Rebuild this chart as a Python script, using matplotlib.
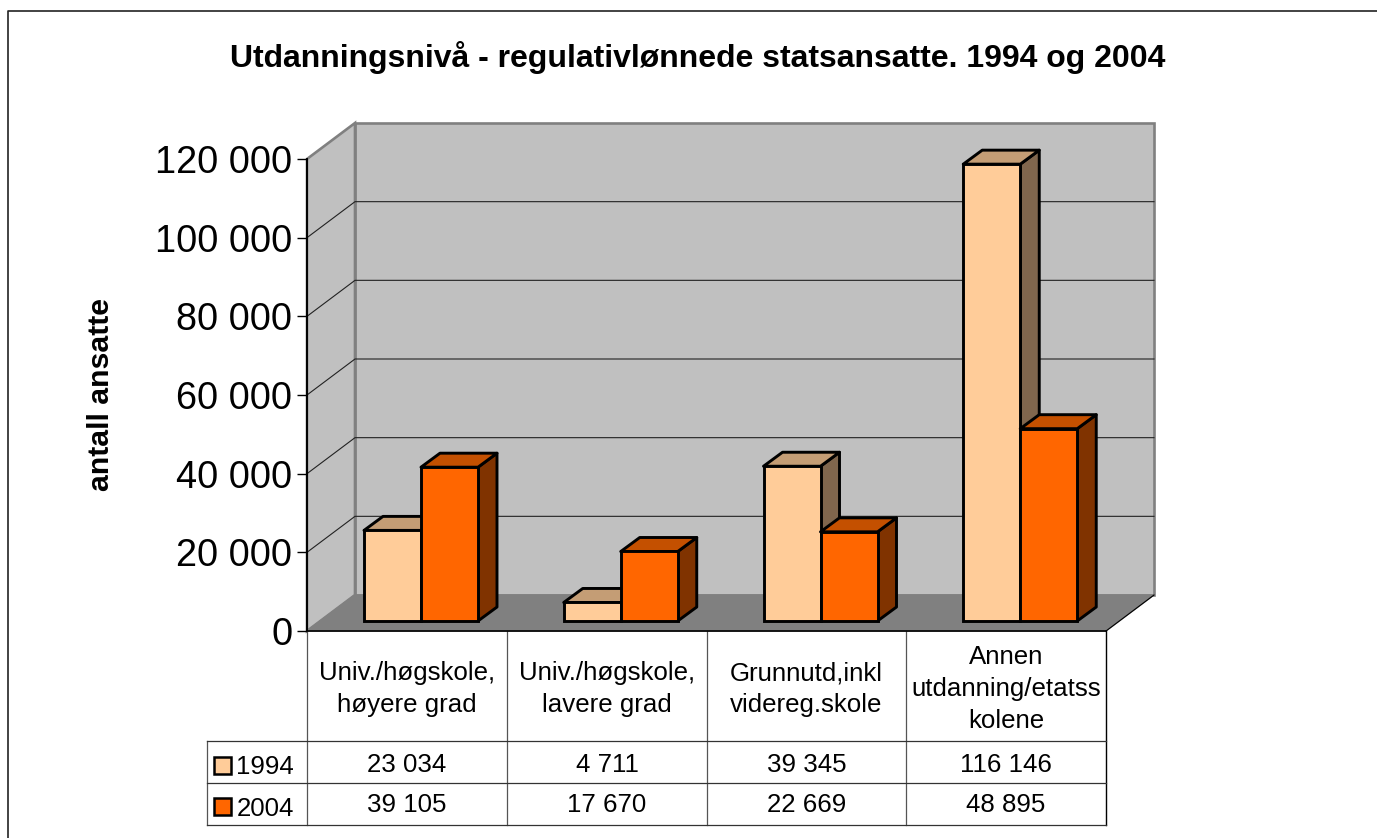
import matplotlib
matplotlib.use("Agg")
import matplotlib.pyplot as plt
from matplotlib.patches import Polygon, Rectangle

plt.rcParams['font.family'] = ['Liberation Sans', 'DejaVu Sans']

categories = ["Univ./høgskole,\nhøyere grad", "Univ./høgskole,\nlavere grad",
              "Grunnutd,inkl\nvidereg.skole", "Annen\nutdanning/etatss\nkolene"]
years = ["1994", "2004"]
values_1994 = [23034, 4711, 39345, 116146]
values_2004 = [39105, 17670, 22669, 48895]
yticks = [0, 20000, 40000, 60000, 80000, 100000, 120000]
colors = {"1994": ("#FFCC99", "#C49D75", "#80664D"),
          "2004": ("#FF6600", "#C45000", "#803300")}


def fmt(v):
    return f"{v:,}".replace(",", " ")


W, H = 1377, 838
fig = plt.figure(figsize=(W / 100, H / 100), dpi=100)

# pixel overlay for frame, title and the data table
ov = fig.add_axes([0, 0, 1, 1], zorder=3)
ov.set_xlim(0, W)
ov.set_ylim(H, 0)
ov.axis("off")
ov.patch.set_alpha(0)

# front plane of the 3d box
x0, x1, y0, y1 = 307, 1106, 631, 159
ax = fig.add_axes([x0 / W, (H - y0) / H, (x1 - x0) / W, (y0 - y1) / H], zorder=2)
ax.set_xlim(0, 4)
ax.set_ylim(0, 120000)
ax.patch.set_alpha(0)
for s in ["top", "right", "bottom"]:
    ax.spines[s].set_visible(False)
ax.spines["left"].set_linewidth(1.2)
ax.set_xticks([])
ax.set_yticks(yticks)
ax.set_yticklabels([fmt(t) for t in yticks], fontsize=27.3)
ax.tick_params(axis="y", length=7.2, width=1, pad=3.5)

sx = (x1 - x0) / 4
sy = (y0 - y1) / 120000
dx = 48 / sx
dy = 36 / sy

# walls and floor
ax.add_patch(Polygon([(dx, dy), (4 + dx, dy), (4 + dx, 120000 + dy), (dx, 120000 + dy)],
                     fc="#C0C0C0", ec="#808080", lw=1.9, clip_on=False, zorder=1))
ax.add_patch(Polygon([(0, 0), (dx, dy), (dx, 120000 + dy), (0, 120000)],
                     fc="#C0C0C0", ec="#808080", lw=1.9, clip_on=False, zorder=1))
ax.add_patch(Polygon([(0, 0), (4, 0), (4 + dx, dy), (dx, dy)],
                     fc="#808080", ec="#808080", lw=1, clip_on=False, zorder=1.5))
ax.plot([0, 0], [0, 120000], color="black", lw=1.2, clip_on=False, zorder=2)
ax.plot([4, 4 + dx], [0, dy], color="black", lw=0.8, clip_on=False, zorder=2)

for t in yticks[1:-1]:
    ax.plot([0, dx, 4 + dx], [t, t + dy, t + dy], color="#222222", lw=0.8,
            clip_on=False, zorder=1.6)

# bars, 75 % gap, centred in the depth of the box
bw = 57 / sx
gap = 42.5 / sx
bx = 19 / sx
by = 14 / sy
fx = 14.5 / sx
base = 10 / sy
z = 3
for i in range(len(categories)):
    for j, (year, vals) in enumerate(zip(years, [values_1994, values_2004])):
        left = i + fx + gap + j * bw
        top = base + vals[i]
        front, lid, side = colors[year]
        ax.add_patch(Polygon([(left + bw, base), (left + bw + bx, base + by),
                              (left + bw + bx, top + by), (left + bw, top)],
                             fc=side, ec="black", lw=2.1, joinstyle="round", clip_on=False, zorder=z))
        ax.add_patch(Polygon([(left, top), (left + bx, top + by),
                              (left + bw + bx, top + by), (left + bw, top)],
                             fc=lid, ec="black", lw=2.1, joinstyle="round", clip_on=False, zorder=z))
        ax.bar(left, vals[i], width=bw, bottom=base, align="edge", color=front,
               edgecolor="black", linewidth=2.1, clip_on=False, zorder=z + 0.1)
        z += 1

# frame
ov.plot([8, 8, W], [H, 11, 11], color="#222222", lw=1.2, clip_on=False)

ov.text(698, 58, "Utdanningsnivå - regulativlønnede statsansatte. 1994 og 2004",
        ha="center", va="center", fontsize=23, fontweight="bold")
ov.text(101, 394, "antall ansatte", rotation=90, ha="center", va="center",
        fontsize=21.8, fontweight="bold")

# data table
cols = [307, 507, 707, 906, 1106]
rows = [631, 741, 783, 825]
grid = "#555555"
for cx in cols:
    ov.plot([cx, cx], [631, 825], color=grid, lw=0.9)
ov.plot([207, 207], [741, 825], color=grid, lw=0.9)
ov.plot([1106, 1106], [631, 825], color="black", lw=0.9)
for ry in rows[1:]:
    ov.plot([207, 1106], [ry, ry], color="#333333", lw=0.9)
ov.plot([307, 1106], [631, 631], color="black", lw=1.2)

for i, cat in enumerate(categories):
    cx = (cols[i] + cols[i + 1]) / 2
    ov.text(cx, 689, cat, ha="center", va="center", fontsize=18.6, linespacing=1.42)
    ov.text(cx, 765, fmt(values_1994[i]), ha="center", va="center", fontsize=18.6)
    ov.text(cx, 805, fmt(values_2004[i]), ha="center", va="center", fontsize=18.6)

for year, ky, ty in zip(years, [757, 798], [767, 809]):
    ov.add_patch(Rectangle((214, ky), 17, 17, fc=colors[year][0], ec="black", lw=1.8))
    ov.text(265, ty, year, ha="center", va="center", fontsize=18.6)

fig.savefig("out.png", dpi=100, facecolor="white")
